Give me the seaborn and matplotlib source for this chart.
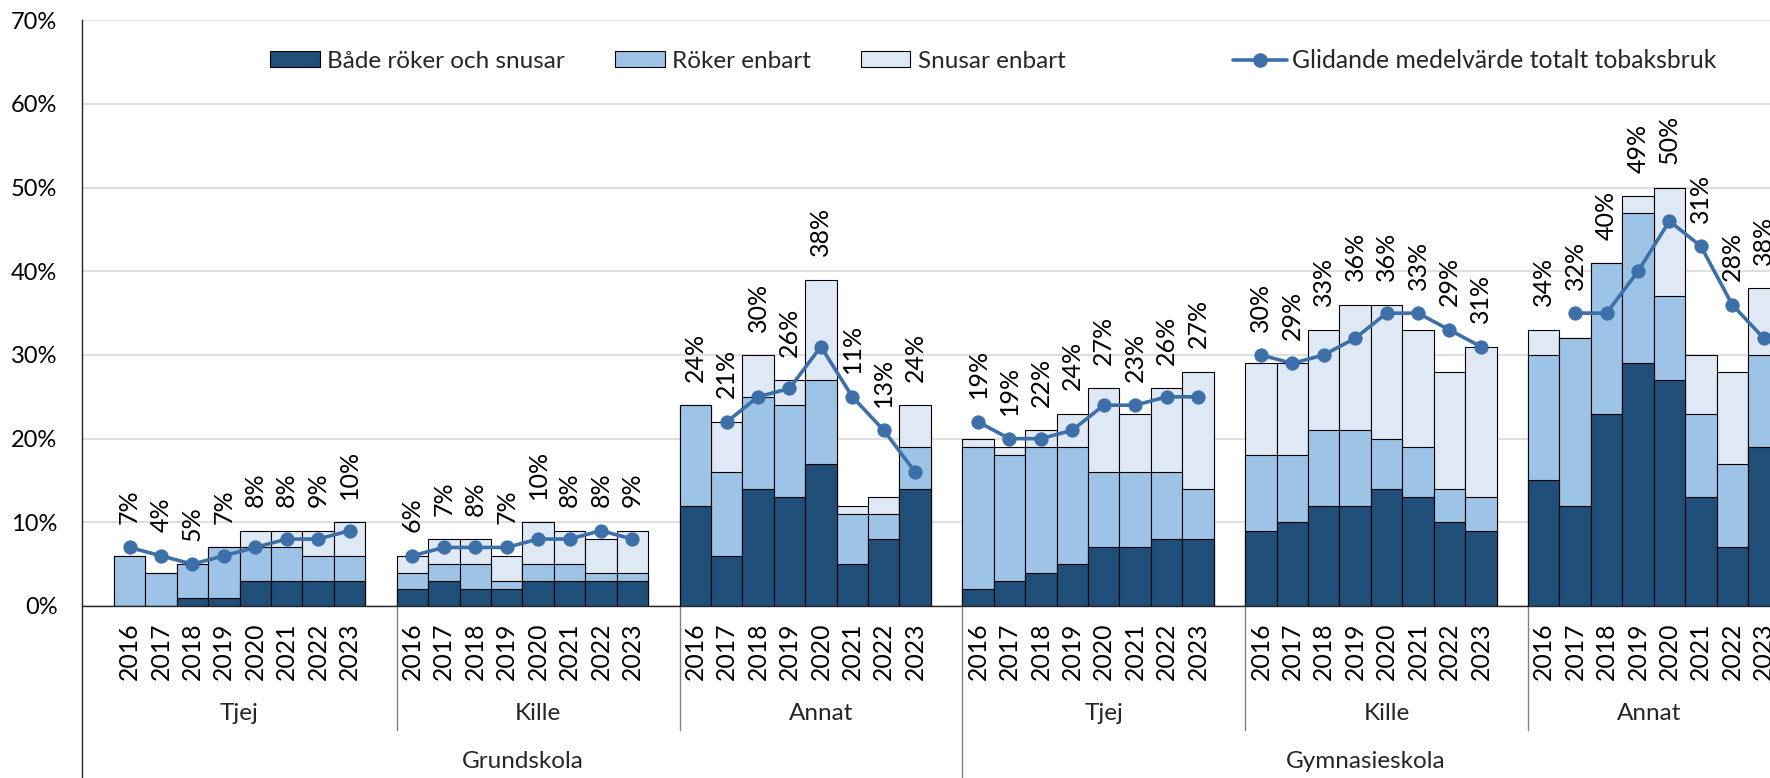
import numpy as np
import pandas as pd
import matplotlib
matplotlib.use("Agg")
import matplotlib.pyplot as plt
from matplotlib.patches import Patch
from matplotlib.lines import Line2D
import seaborn as sns

# Kategorier
ar = [2016, 2017, 2018, 2019, 2020, 2021, 2022, 2023]
grupper = ["Tjej", "Kille", "Annat", "Tjej", "Kille", "Annat"]
skolformer = ["Grundskola", "Gymnasieskola"]

# Andel (%) per grupp och år, i ordningen grupper x år
bade = [0, 0, 1, 1, 3, 3, 3, 3,
        2, 3, 2, 2, 3, 3, 3, 3,
        12, 6, 14, 13, 17, 5, 8, 14,
        2, 3, 4, 5, 7, 7, 8, 8,
        9, 10, 12, 12, 14, 13, 10, 9,
        15, 12, 23, 29, 27, 13, 7, 19]
roker = [6, 4, 4, 6, 4, 4, 3, 3,
         2, 2, 3, 1, 2, 2, 1, 1,
         12, 10, 11, 11, 10, 6, 3, 5,
         17, 15, 15, 14, 9, 9, 8, 6,
         9, 8, 9, 9, 6, 6, 4, 4,
         15, 20, 18, 18, 10, 10, 10, 11]
snusar = [0, 0, 0, 0, 2, 2, 3, 4,
          2, 3, 3, 3, 5, 4, 4, 5,
          0, 6, 5, 3, 12, 1, 2, 5,
          1, 1, 2, 4, 10, 7, 10, 14,
          11, 11, 12, 15, 16, 14, 14, 18,
          3, 0, 0, 2, 13, 7, 11, 8]
# Totalt tobaksbruk (etiketter)
totalt = [7, 4, 5, 7, 8, 8, 9, 10,
          6, 7, 8, 7, 10, 8, 8, 9,
          24, 21, 30, 26, 38, 11, 13, 24,
          19, 19, 22, 24, 27, 23, 26, 27,
          30, 29, 33, 36, 36, 33, 29, 31,
          34, 32, 40, 49, 50, 31, 28, 38]
# Glidande medelvärde
medel = [7, 6, 5, 6, 7, 8, 8, 9,
         6, 7, 7, 7, 8, 8, 9, 8,
         np.nan, 22, 25, 26, 31, 25, 21, 16,
         22, 20, 20, 21, 24, 24, 25, 25,
         30, 29, 30, 32, 35, 35, 33, 31,
         np.nan, 35, 35, 40, 46, 43, 36, 32]

MORK = "#1f4e79"
MELLAN = "#9dc3e6"
LJUS = "#dfe8f5"
LINJE = "#3d6fa8"

rader = []
for g, grupp in enumerate(grupper):
    for i, a in enumerate(ar):
        k = g * 8 + i
        rader.append({"pos": g * 9 + i + 1, "grupp": g, "ar": a,
                      "bade": bade[k], "roker": roker[k], "snusar": snusar[k],
                      "totalt": totalt[k], "medel": medel[k]})
df = pd.DataFrame(rader)
df["niva2"] = df["bade"] + df["roker"]
df["topp"] = df["niva2"] + df["snusar"]

sns.set_theme(style="white")
plt.rcParams["font.family"] = ["Lato", "DejaVu Sans"]

W, H = 1770, 778
Y0, Y70 = 606, 20.3
fig = plt.figure(figsize=(W / 100, H / 100), dpi=100)
ax = fig.add_axes([82.4 / W, 1 - Y0 / H, 1 - 82.4 / W, (Y0 - Y70) / H])

# Staplade staplar: ritas från totalen och nedåt
for kol, farg in [("topp", LJUS), ("niva2", MELLAN), ("bade", MORK)]:
    sns.barplot(data=df, x="pos", y=kol, native_scale=True, width=1,
                color=farg, saturation=1, edgecolor="black", linewidth=0.8,
                errorbar=None, ax=ax, zorder=2)

sns.lineplot(data=df.dropna(subset=["medel"]), x="pos", y="medel",
             units="grupp", estimator=None, color=LINJE, linewidth=2.6,
             marker="o", markersize=9.5, markeredgecolor=LINJE,
             legend=False, ax=ax, zorder=4)

# Etiketter ovanför staplarna
for r in df.itertuples():
    h = r.topp if np.isnan(r.medel) else max(r.topp, r.medel)
    ax.text(r.pos, h + 2.8, f"{int(r.totalt)}%", rotation=90,
            ha="center", va="bottom", fontsize=18, color="black", zorder=5)

ax.set_xlim(-0.5, 53.2)
ax.set_ylim(0, 70)
ax.set_yticks(range(0, 71, 10))
ax.set_yticklabels([f"{v}%" for v in range(0, 71, 10)])
ax.set_xticks(df["pos"])
ax.set_xticklabels(df["ar"], rotation=90)
ax.tick_params(axis="y", length=0, pad=18, labelsize=17, colors="black")
ax.tick_params(axis="x", length=0, pad=12, labelsize=17.8, colors="black")
ax.set_xlabel("")
ax.set_ylabel("")
ax.yaxis.grid(True, color="#d9d9d9", linewidth=1.2)
ax.set_axisbelow(True)
for s in ["top", "right"]:
    ax.spines[s].set_visible(False)
for s in ["left", "bottom"]:
    ax.spines[s].set_color("#262626")
    ax.spines[s].set_linewidth(1)

# Linjer och etiketter för grupperna under axeln
trans = ax.get_xaxis_transform()
skala = Y0 - Y70
y_fig_botten = -(H - Y0) / skala
y_grupp_linje = -(730 - Y0) / skala
ax.plot([-0.5, -0.5], [0, y_fig_botten], transform=trans, clip_on=False,
        color="#262626", lw=1)
ax.plot([27.5, 27.5], [0, y_fig_botten], transform=trans, clip_on=False,
        color="#808080", lw=1)
for x in [9.5, 18.5, 36.5, 45.5]:
    ax.plot([x, x], [0, y_grupp_linje], transform=trans, clip_on=False,
            color="#808080", lw=1)

kanter = [-0.5, 9.5, 18.5, 27.5, 36.5, 45.5, 53.2]
for g, grupp in enumerate(grupper):
    ax.text((kanter[g] + kanter[g + 1]) / 2, -(713 - Y0) / skala, grupp,
            transform=trans, ha="center", va="center", fontsize=17.5)
for s, (a, b) in zip(skolformer, [(-0.5, 27.5), (27.5, 53.2)]):
    ax.text((a + b) / 2, -(762 - Y0) / skala, s,
            transform=trans, ha="center", va="center", fontsize=17.5)

# Teckenförklaring
handtag = [Patch(facecolor=MORK, edgecolor="black", linewidth=0.8, label="Både röker och snusar"),
           Patch(facecolor=MELLAN, edgecolor="black", linewidth=0.8, label="Röker enbart"),
           Patch(facecolor=LJUS, edgecolor="black", linewidth=0.8, label="Snusar enbart")]
fig.legend(handles=handtag, loc="center left", bbox_to_anchor=(270 / W, 1 - 61 / H),
           ncol=3, frameon=False, fontsize=17.5, handlelength=2.05, handleheight=0.65,
           handletextpad=0.3, columnspacing=2.05, borderpad=0, borderaxespad=0)
linje = [Line2D([0], [0], color=LINJE, linewidth=2.6, marker="o", markersize=9.5,
                label="Glidande medelvärde totalt tobaksbruk")]
fig.legend(handles=linje, loc="center left", bbox_to_anchor=(1233 / W, 1 - 61 / H),
           frameon=False, fontsize=17.8, handlelength=2.2, handletextpad=0.2,
           borderpad=0, borderaxespad=0)

fig.savefig("out.png", dpi=100)
